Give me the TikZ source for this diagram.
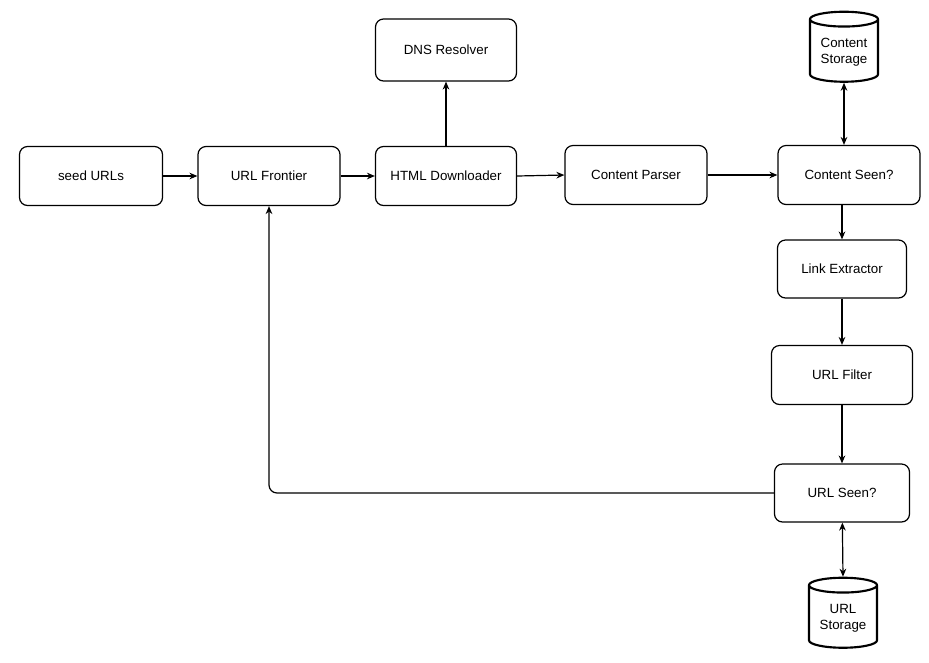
\documentclass[tikz,border=0pt]{standalone}
\usepackage{fontspec}
\setmainfont{Liberation Sans}
\usetikzlibrary{shapes.geometric,arrows.meta}
\begin{document}
\begin{tikzpicture}[x=0.75pt,y=-0.75pt,
  box/.style={draw,rounded corners=6pt,line width=0.9pt,minimum width=#1*0.75pt,minimum height=59*0.75pt,font=\fontsize{10pt}{12pt}\selectfont,align=center},
  db/.style={draw,cylinder,shape border rotate=90,aspect=0.3,line width=1.6pt,minimum width=68*0.75pt,minimum height=70*0.75pt,font=\fontsize{10pt}{12pt}\selectfont,align=center,inner sep=1pt},
  arr/.style={-{Stealth[length=6pt,width=5pt]},line width=0.9pt},
  darr/.style={{Stealth[length=6pt,width=5pt]}-{Stealth[length=6pt,width=5pt]},line width=0.9pt}]
\useasboundingbox (0,0) rectangle (929,662);
\node[box=143] (seed) at (91,176) {seed URLs};
\node[box=142] (front) at (269,176) {URL Frontier};
\node[box=141] (html) at (446,176) {HTML Downloader};
\node[box=141,minimum height=62*0.75pt] (dns) at (446,50) {DNS Resolver};
\node[box=142] (parser) at (636,175) {Content Parser};
\node[box=142] (cseen) at (849,175) {Content Seen?};
\node[db] (cstore) at (844,52) {Content\\Storage};
\node[box=129,minimum height=58*0.75pt] (link) at (842,269) {Link Extractor};
\node[box=141] (filter) at (842,375) {URL Filter};
\node[box=135,minimum height=58*0.75pt] (useen) at (842,493) {URL Seen?};
\node[db] (ustore) at (843,618) {URL\\Storage};
\draw[arr] (seed) -- (front);
\draw[arr] (front) -- (html);
\draw[arr] (html) -- (dns);
\draw[arr] (html.east) -- (parser.west);
\draw[arr] (parser) -- (cseen);
\draw[darr] (cseen.north -| cstore) -- (cstore.south);
\draw[arr] (cseen.south -| link) -- (link);
\draw[arr] (link) -- (filter);
\draw[arr] (filter) -- (useen);
\draw[darr] (useen) -- (ustore.north);
\draw[arr,rounded corners=6pt] (useen.west) -- (269,493) -- (front.south);
\end{tikzpicture}
\end{document}
